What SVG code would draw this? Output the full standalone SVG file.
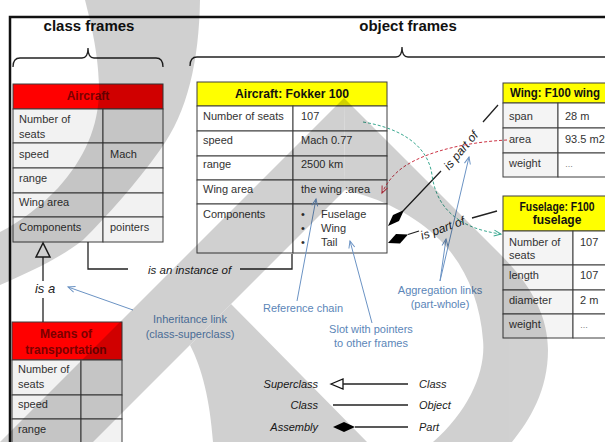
<svg xmlns="http://www.w3.org/2000/svg" width="605" height="442" viewBox="0 0 605 442">
<defs>
<style>
text{font-family:"Liberation Sans",Arial,sans-serif;}
.c{fill:#f2f2f2;stroke:#3f3f3f;stroke-width:1}
.w{fill:#ffffff;stroke:#3f3f3f;stroke-width:1}
.lc{fill:#f4f4f4;stroke:#3f3f3f;stroke-width:1}
.hr{fill:#ff0000;stroke:#3f3f3f;stroke-width:1}
.hy{fill:#ffff00;stroke:#3f3f3f;stroke-width:1}
.t{font-size:11px;fill:#333}
.hrt{font-size:12px;font-weight:bold;fill:#7a0000;text-anchor:middle}
.hyt{font-size:12px;font-weight:bold;fill:#111;text-anchor:middle}
.ti{font-size:15px;font-weight:bold;fill:#111;text-anchor:middle}
.it{font-style:italic;fill:#222}
.bl{font-size:11px;fill:#5b86b8;text-anchor:middle}
.ln{fill:none;stroke:#222;stroke-width:1.3}
.ba{fill:none;stroke:#6b93c4;stroke-width:1;marker-end:url(#ba)}
</style>
<marker id="ba" markerWidth="10" markerHeight="10" refX="8" refY="4" orient="auto" markerUnits="userSpaceOnUse"><path d="M1,1 L8,4 L1,7" fill="none" stroke="#6b93c4" stroke-width="1"/></marker>
<marker id="ga" markerWidth="10" markerHeight="10" refX="8" refY="4" orient="auto" markerUnits="userSpaceOnUse"><path d="M1,1 L8,4 L1,7" fill="none" stroke="#3aa890" stroke-width="1"/></marker>
<marker id="ra" markerWidth="10" markerHeight="10" refX="8" refY="4" orient="auto" markerUnits="userSpaceOnUse"><path d="M1,1 L8,4 L1,7" fill="none" stroke="#cc3344" stroke-width="1"/></marker>
</defs>
<rect width="605" height="442" fill="#fff"/>

<g id="frame">
<path d="M10 442 V17 H605" fill="none" stroke="#111" stroke-width="2.5"/>
<text class="ti" x="89" y="31">class frames</text>
<text class="ti" x="408" y="31">object frames</text>
<path class="ln" d="M13 67 Q13 58 20 58 H82 Q88 58 88 48 Q88 58 94 58 H156 Q163 58 163 67"/>
<path class="ln" d="M190 66 Q190 57 197 57 H396 Q402 57 402 47 Q402 57 408 57 H605"/>
</g>

<g id="aircraft-class">
<rect class="hr" x="13" y="84" width="150" height="25"/>
<text class="hrt" x="88" y="100">Aircraft</text>
<rect class="c" x="13" y="109" width="90" height="34"/><rect class="c" x="103" y="109" width="60" height="34"/>
<rect class="c" x="13" y="143" width="90" height="25"/><rect class="c" x="103" y="143" width="60" height="25"/>
<rect class="c" x="13" y="168" width="90" height="25"/><rect class="c" x="103" y="168" width="60" height="25"/>
<rect class="c" x="13" y="193" width="90" height="24"/><rect class="c" x="103" y="193" width="60" height="24"/>
<rect class="c" x="13" y="217" width="90" height="25"/><rect class="c" x="103" y="217" width="60" height="25"/>
<text class="t" x="19" y="123">Number of</text><text class="t" x="19" y="138">seats</text>
<text class="t" x="19" y="158">speed</text><text class="t" x="110" y="158">Mach</text>
<text class="t" x="19" y="182">range</text>
<text class="t" x="19" y="206">Wing area</text>
<text class="t" x="19" y="231">Components</text><text class="t" x="110" y="231">pointers</text>
</g>

<g id="means-class">
<rect class="hr" x="12" y="322" width="110" height="38"/>
<text class="hrt" x="66" y="338">Means of</text>
<text class="hrt" x="66" y="354">transportation</text>
<rect class="c" x="12" y="360" width="69" height="35"/><rect class="c" x="81" y="360" width="41" height="35"/>
<rect class="c" x="12" y="395" width="69" height="24"/><rect class="c" x="81" y="395" width="41" height="24"/>
<rect class="c" x="12" y="419" width="69" height="25"/><rect class="c" x="81" y="419" width="41" height="25"/>
<text class="t" x="18" y="373">Number of</text><text class="t" x="18" y="388">seats</text>
<text class="t" x="18" y="408">speed</text>
<text class="t" x="18" y="433">range</text>
</g>

<g id="fokker-object">
<rect class="hy" x="197" y="82" width="190" height="24"/>
<text class="hyt" x="292" y="98" textLength="114" lengthAdjust="spacingAndGlyphs">Aircraft: Fokker 100</text>
<rect class="w" x="197" y="106" width="96" height="25"/><rect class="w" x="293" y="106" width="94" height="25"/>
<rect class="w" x="197" y="131" width="96" height="25"/><rect class="w" x="293" y="131" width="94" height="25"/>
<rect class="w" x="197" y="156" width="96" height="24"/><rect class="w" x="293" y="156" width="94" height="24"/>
<rect class="w" x="197" y="180" width="96" height="24"/><rect class="w" x="293" y="180" width="94" height="24"/>
<rect class="w" x="197" y="204" width="96" height="49"/><rect class="w" x="293" y="204" width="94" height="49"/>
<text class="t" x="203" y="120">Number of seats</text><text class="t" x="301" y="120">107</text>
<text class="t" x="203" y="144">speed</text><text class="t" x="301" y="144">Mach 0.77</text>
<text class="t" x="203" y="168">range</text><text class="t" x="301" y="168">2500 km</text>
<text class="t" x="203" y="193">Wing area</text><text class="t" x="301" y="193">the wing :area</text>
<text class="t" x="203" y="218">Components</text>
<text class="t" x="301" y="218">•</text><text class="t" x="321" y="218">Fuselage</text>
<text class="t" x="301" y="232">•</text><text class="t" x="321" y="232">Wing</text>
<text class="t" x="301" y="246">•</text><text class="t" x="321" y="246">Tail</text>
</g>

<g id="wing-object">
<rect class="hy" x="503" y="83" width="108" height="20"/>
<text class="hyt" x="555" y="97" textLength="90" lengthAdjust="spacingAndGlyphs">Wing: F100 wing</text>
<rect class="lc" x="503" y="103" width="55" height="25"/><rect class="w" x="558" y="103" width="53" height="25"/>
<rect class="lc" x="503" y="128" width="55" height="25"/><rect class="w" x="558" y="128" width="53" height="25"/>
<rect class="lc" x="503" y="153" width="55" height="24"/><rect class="w" x="558" y="153" width="53" height="24"/>
<text class="t" x="509" y="120">span</text><text class="t" x="565" y="120">28 m</text>
<text class="t" x="509" y="143">area</text><text class="t" x="565" y="143">93.5 m2</text>
<text class="t" x="509" y="167">weight</text><text class="t" x="565" y="167" style="font-size:8px">…</text>
</g>

<g id="fuselage-object">
<rect class="hy" x="503" y="196" width="108" height="35"/>
<text class="hyt" x="557" y="211" textLength="75" lengthAdjust="spacingAndGlyphs">Fuselage: F100</text>
<text class="hyt" x="557" y="224">fuselage</text>
<rect class="lc" x="503" y="231" width="70" height="34"/><rect class="w" x="573" y="231" width="38" height="34"/>
<rect class="lc" x="503" y="265" width="70" height="25"/><rect class="w" x="573" y="265" width="38" height="25"/>
<rect class="lc" x="503" y="290" width="70" height="24"/><rect class="w" x="573" y="290" width="38" height="24"/>
<rect class="lc" x="503" y="314" width="70" height="24"/><rect class="w" x="573" y="314" width="38" height="24"/>
<text class="t" x="509" y="246">Number of</text><text class="t" x="509" y="259">seats</text><text class="t" x="580" y="246">107</text>
<text class="t" x="509" y="279">length</text><text class="t" x="580" y="279">107</text>
<text class="t" x="509" y="304">diameter</text><text class="t" x="580" y="304">2 m</text>
<text class="t" x="509" y="328">weight</text><text class="t" x="580" y="328" style="font-size:8px">…</text>
</g>

<g id="connectors">
<path class="ln" d="M88 242 V269 H128 M240 269 H292 V254"/>
<text class="it" x="148" y="274" style="font-size:11.5px">is an instance of</text>
<polygon points="43,243 36,257 50,257" fill="#fff" stroke="#222" stroke-width="1.5"/>
<path class="ln" d="M43 257 V281 M43 298 V322"/>
<text class="it" x="45" y="293" text-anchor="middle" style="font-size:13px">is a</text>
<polygon points="388,226 399,221 404,210 393,215" fill="#000"/>
<path class="ln" d="M403 211 L441 171 M483 122 L498 105"/>
<text class="it" x="464" y="153" text-anchor="middle" transform="rotate(-50 464 153)" style="font-size:12px">is part of</text>
<polygon points="388,243 400,243.5 408,234.5 396,234" fill="#000"/>
<path class="ln" d="M408 234.5 L419 231 M472 218 L497 211"/>
<text class="it" x="444" y="232" text-anchor="middle" transform="rotate(-20 444 232)" style="font-size:12px">is part of</text>
<path d="M363 122 C400 128 428 145 432 175 C436 205 455 228 501 234" fill="none" stroke="#3aa890" stroke-width="1" stroke-dasharray="3 2" marker-end="url(#ga)"/>
<path d="M507 140 C470 142 430 150 405 166 C393 174 386 184 382 193" fill="none" stroke="#cc3344" stroke-width="1" stroke-dasharray="3 2" marker-end="url(#ra)"/>
<path class="ba" d="M297 301 L316 199"/>
<path class="ba" d="M372 323 L350 241"/>
<path class="ba" d="M440 281 L446 239"/>
<path class="ba" d="M440 281 L469 157"/>
<path class="ba" d="M133 310 L68 287"/>
</g>

<g id="annotations">
<text class="bl" x="303" y="312">Reference chain</text>
<text class="bl" x="371" y="333">Slot with pointers</text>
<text class="bl" x="371" y="347">to other frames</text>
<text class="bl" x="440" y="294">Aggregation links</text>
<text class="bl" x="440" y="308">(part-whole)</text>
<text class="bl" x="190" y="323">Inheritance link</text>
<text class="bl" x="190" y="338">(class-superclass)</text>
</g>

<g id="legend">
<text class="it" x="318" y="388" text-anchor="end" style="font-size:11px">Superclass</text>
<polygon points="331,384 343,379 343,389" fill="#fff" stroke="#111" stroke-width="1.3"/>
<path class="ln" d="M343 384 H408"/>
<text class="it" x="419" y="388" style="font-size:11px">Class</text>
<text class="it" x="318" y="409" text-anchor="end" style="font-size:11px">Class</text>
<path class="ln" d="M333 405 H408"/>
<text class="it" x="419" y="409" style="font-size:11px">Object</text>
<text class="it" x="318" y="431" text-anchor="end" style="font-size:11px">Assembly</text>
<polygon points="333,427 344,422 355,427 344,432" fill="#000"/>
<path class="ln" d="M355 427 H408"/>
<text class="it" x="419" y="431" style="font-size:11px">Part</text>
</g>

<g id="watermark" opacity="0.18" fill="#000">
<path d="M85 0 L200 0 C199 60 188 112 160 150 C135 185 108 215 83 240 C60 258 30 272 0 285 L0 232 C20 222 42 205 58 188 C85 158 100 125 99 85 C98 50 90 20 85 0 Z"/>
<path d="M344 98 L0 442 L93 442 L345 190 Z"/>
<path d="M344 98 L500 254 C530 284 548 315 548 350 C548 390 530 420 512 442 L433 442 C470 410 486 370 483 340 C480 300 465 265 440 240 C415 215 380 198 345 190 Z"/>
<path d="M231 304 L367 442 L213 442 C210 400 202 368 190 345 Z"/>
</g>
</svg>
